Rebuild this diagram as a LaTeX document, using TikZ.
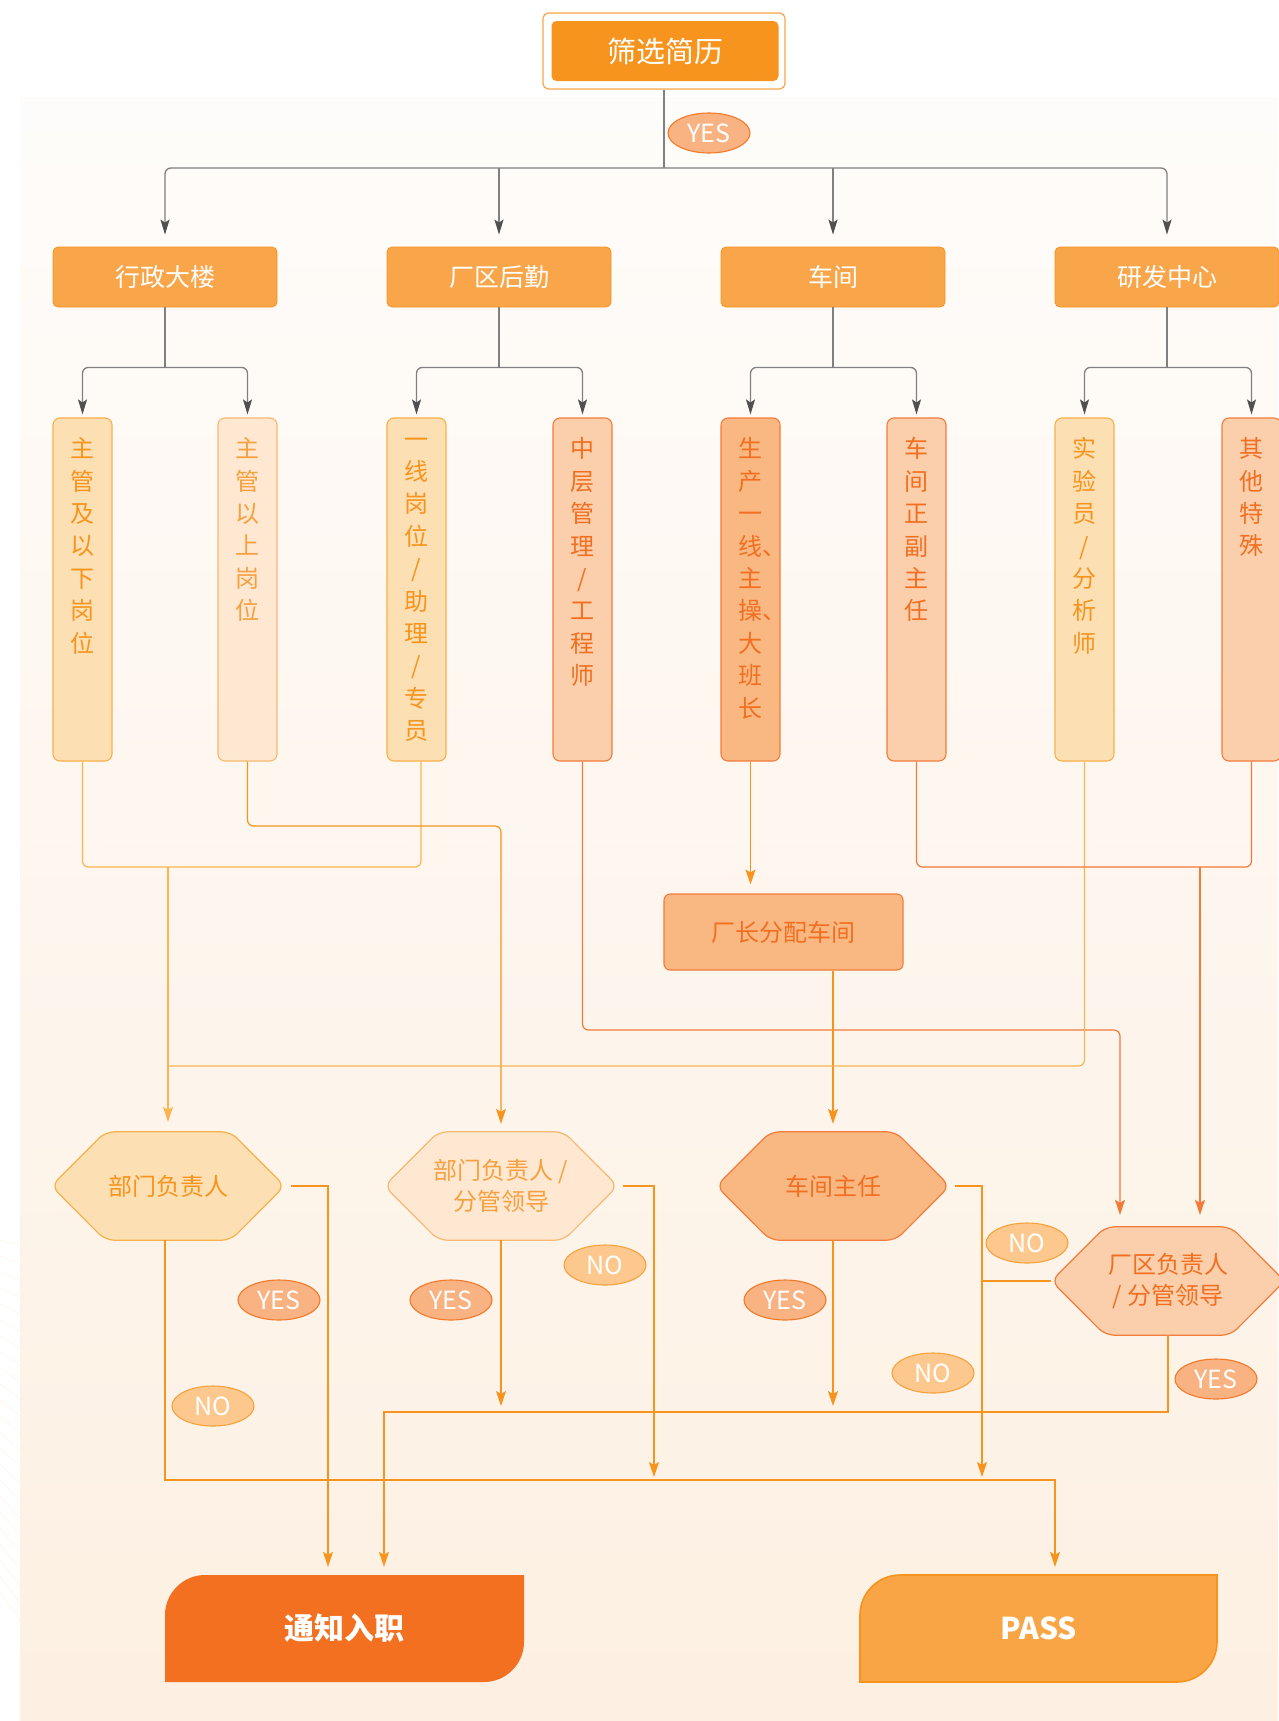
\documentclass[tikz,border=0pt]{standalone}
\usepackage{fontspec}
\setmainfont{Noto Sans CJK SC}
\usetikzlibrary{arrows.meta,calc,shapes.geometric}
\definecolor{bgtop}{HTML}{FEFCFA}
\definecolor{bgbot}{HTML}{FDF0E2}
\definecolor{topbd}{HTML}{F9A54A}
\definecolor{topfill}{HTML}{F7941D}
\definecolor{lvlfill}{HTML}{F9A54A}
\definecolor{lvlbd}{HTML}{F7941D}
\definecolor{gline}{HTML}{808080}
\definecolor{gtip}{HTML}{505050}
\definecolor{fA}{HTML}{FDDFB4}
\definecolor{bA}{HTML}{F9B04A}
\definecolor{tA}{HTML}{F7941D}
\definecolor{fB}{HTML}{FEE8D2}
\definecolor{bB}{HTML}{F9B870}
\definecolor{tB}{HTML}{F7A040}
\definecolor{fC}{HTML}{FBCFAB}
\definecolor{bC}{HTML}{F47C3C}
\definecolor{tC}{HTML}{F26F21}
\definecolor{fD}{HTML}{F9B882}
\definecolor{bD}{HTML}{F47C3C}
\definecolor{cA}{HTML}{FBB550}
\definecolor{cB}{HTML}{F7941D}
\definecolor{cC}{HTML}{F47A38}
\definecolor{cO}{HTML}{F7941D}
\definecolor{yesf}{HTML}{F9B282}
\definecolor{yesb}{HTML}{F37A2A}
\definecolor{nof}{HTML}{FDC88E}
\definecolor{nob}{HTML}{F8A23C}
\definecolor{okf}{HTML}{F37021}
\definecolor{passf}{HTML}{F9A546}
\definecolor{passb}{HTML}{F7941D}
\newcommand\hexshape[2]{\path[#2] (#1.west) -- ([xshift=54pt]#1.north west) -- ([xshift=-54pt]#1.north east) -- (#1.east) -- ([xshift=-54pt]#1.south east) -- ([xshift=54pt]#1.south west) -- cycle;}
\begin{document}
\begin{tikzpicture}[x=1pt,y=-1pt,
  glinestyle/.style={draw=gline,line width=1.3pt},
  garrow/.style={glinestyle,-{Stealth[length=15pt,width=9pt,inset=3pt,color=gtip]}},
  olinestyle/.style={line width=1.2pt},
  oarrow/.style={olinestyle,-{Stealth[length=15pt,width=10pt,inset=3pt]}},
  lvl/.style={fill=lvlfill,draw=lvlbd,line width=0.8pt,rounded corners=5pt,minimum width=224pt,minimum height=60pt,text=white,font=\fontsize{25pt}{30pt}\selectfont},
  tallbox/.style={line width=1.1pt,rounded corners=7pt,minimum width=59pt,minimum height=343pt,inner sep=0pt},
  stext/.style={anchor=north,align=center,inner sep=0pt,font=\fontsize{24pt}{32.4pt}\selectfont},
  hexn/.style={minimum width=233pt,minimum height=108pt,inner sep=0pt},
  htext/.style={align=center,inner sep=0pt,font=\fontsize{24pt}{31pt}\selectfont},
  yesl/.style={ellipse,fill=yesf,draw=yesb,line width=1.1pt,minimum width=82pt,minimum height=40pt,inner sep=0pt,text=white,font=\fontsize{25pt}{28pt}\selectfont},
  nol/.style={ellipse,fill=nof,draw=nob,line width=1.1pt,minimum width=82pt,minimum height=40pt,inner sep=0pt,text=white,font=\fontsize{25pt}{28pt}\selectfont},
  endtext/.style={minimum width=359pt,minimum height=107pt,inner sep=0pt,text=white,font=\fontsize{30pt}{34pt}\selectfont\bfseries}
]
\useasboundingbox (0,0) rectangle (1278,1721);
\fill[white] (0,0) rectangle (1278,1721);
\shade[top color=bgtop,bottom color=bgbot] (20,97) rectangle (1278,1721);
\foreach \k in {0,...,22}{
  \draw[white!92!orange,line width=0.6pt] (0,1240+\k*16) -- (20,1246+\k*17);
}

% top box
\node[draw=topbd,fill=white,rounded corners=6pt,line width=1.2pt,minimum width=242pt,minimum height=76pt] (topo) at (664,51) {};
\node[fill=topfill,rounded corners=5pt,minimum width=227pt,minimum height=60pt,text=white,font=\fontsize{29pt}{34pt}\selectfont] (top) at (665,51) {筛选简历};

% level 2
\node[lvl] (l1) at (165,277) {行政大楼};
\node[lvl] (l2) at (499,277) {厂区后勤};
\node[lvl] (l3) at (833,277) {车间};
\node[lvl] (l4) at (1167,277) {研发中心};

\coordinate (hub) at (664,168);
\draw[glinestyle] (topo.south) -- (hub);
\draw[garrow,rounded corners=6pt] (hub) -| ([yshift=12pt]l1.north);
\draw[garrow,rounded corners=6pt] (hub) -| ([yshift=12pt]l4.north);
\draw[garrow] (hub -| l2.north) -- ([yshift=12pt]l2.north);
\draw[garrow] (hub -| l3.north) -- ([yshift=12pt]l3.north);
\node[yesl] (y0) at (709,133) {YES};

% sub boxes
\node[tallbox,fill=fA,draw=bA] (s1) at (82.5,589.5) {};
\node[tallbox,fill=fB,draw=bB] (s2) at (247.5,589.5) {};
\node[tallbox,fill=fA,draw=bA] (s3) at (416.5,589.5) {};
\node[tallbox,fill=fC,draw=bC] (s4) at (582.5,589.5) {};
\node[tallbox,fill=fD,draw=bD] (s5) at (750.5,589.5) {};
\node[tallbox,fill=fC,draw=bC] (s6) at (916.5,589.5) {};
\node[tallbox,fill=fA,draw=bA] (s7) at (1084.5,589.5) {};
\node[tallbox,fill=fC,draw=bC] (s8) at (1251.5,589.5) {};
\node[stext,text=tA] (s1t) at ([yshift=-20pt]s1.north) {主\\管\\及\\以\\下\\岗\\位};
\node[stext,text=tB] (s2t) at ([yshift=-20pt]s2.north) {主\\管\\以\\上\\岗\\位};
\node[stext,text=tA] (s3t) at ([yshift=-20pt]s3.north) {一\\线\\岗\\位\\/\\助\\理\\/\\专\\员};
\node[stext,text=tC] (s4t) at ([yshift=-20pt]s4.north) {中\\层\\管\\理\\/\\工\\程\\师};
\node[stext,text=tC] (s5t) at ([yshift=-20pt]s5.north) {生\\产\\一\\线\rlap{、}\\主\\操\rlap{、}\\大\\班\\长};
\node[stext,text=tC] (s6t) at ([yshift=-20pt]s6.north) {车\\间\\正\\副\\主\\任};
\node[stext,text=tA] (s7t) at ([yshift=-20pt]s7.north) {实\\验\\员\\/\\分\\析\\师};
\node[stext,text=tC] (s8t) at ([yshift=-20pt]s8.north) {其\\他\\特\\殊};

% branches level2 -> sub
\foreach \p/\a/\b in {l1/s1/s2,l2/s3/s4,l3/s5/s6,l4/s7/s8}{
  \coordinate (br\p) at ([yshift=-60pt]\p.south);
  \draw[glinestyle] (\p.south) -- (br\p);
  \draw[garrow,rounded corners=6pt] (br\p) -| ([yshift=3pt]\a.north);
  \draw[garrow,rounded corners=6pt] (br\p) -| ([yshift=3pt]\b.north);
}

% factory box
\node[fill=fD,draw=bD,line width=1.1pt,rounded corners=6pt,minimum width=239pt,minimum height=76pt,text=tC,font=\fontsize{24pt}{28pt}\selectfont] (f) at (783.5,932) {厂长分配车间};

% hexagons
\node[hexn] (h1) at (168,1186) {};
\node[hexn] (h2) at (501,1186) {};
\node[hexn] (h3) at (833,1186) {};
\node[hexn] (h4) at (1168,1281) {};
\hexshape{h1}{fill=fA,draw=bA,line width=1.2pt,rounded corners=9pt}
\hexshape{h2}{fill=fB,draw=bB,line width=1.2pt,rounded corners=9pt}
\hexshape{h3}{fill=fD,draw=bD,line width=1.2pt,rounded corners=9pt}
\hexshape{h4}{fill=fC,draw=bC,line width=1.2pt,rounded corners=9pt}
\node[htext,text=tA] (h1t) at (h1) {部门负责人};
\node[htext,text=tB] (h2t) at (h2) {部门负责人 /\\分管领导};
\node[htext,text=tC] (h3t) at (h3) {车间主任};
\node[htext,text=tC] (h4t) at (h4) {厂区负责人\\/ 分管领导};

% end boxes
\fill[okf] (165,1682) -- (165,1615) .. controls (165,1593) and (183,1575) .. (205,1575) -- (524,1575) -- (524,1642) .. controls (524,1664) and (506,1682) .. (484,1682) -- cycle;
\filldraw[fill=passf,draw=passb,line width=1.6pt] (860,1682) -- (860,1615) .. controls (860,1593) and (878,1575) .. (900,1575) -- (1217,1575) -- (1217,1642) .. controls (1217,1664) and (1199,1682) .. (1177,1682) -- cycle;
\node[endtext] (ok) at (344.5,1628.5) {通知入职};
\node[endtext] (pass) at (1038.5,1628.5) {PASS};
\coordinate (okin) at ([yshift=8pt]ok.north);
\coordinate (passin) at ([yshift=8pt]pass.north);

% sub -> checks
\coordinate (j1) at (168,867);
\draw[olinestyle,draw=cA,rounded corners=6pt] (s1.south) |- (421,867) -- ([xshift=4.5pt]s3.south);
\draw[oarrow,draw=cA,cA] (j1) -- ([yshift=10pt]h1.north);
\draw[oarrow,draw=cB,cB,rounded corners=6pt] (s2.south) |- (501,826) -- ([yshift=8pt]h2.north);
\draw[oarrow,draw=cC,cC,rounded corners=6pt] (s4.south) |- (1120,1030) -- ([xshift=-48pt,yshift=12pt]h4.north);
\draw[oarrow,draw=cO,cO] (s5.south) -- ([yshift=9pt]f.north -| s5.south);
\draw[oarrow,draw=cO,cO] (f.south -| h3.north) -- ([yshift=8pt]h3.north);
\draw[olinestyle,draw=cA,rounded corners=6pt] (s7.south) |- (j1 |- 0,1066);
\draw[olinestyle,draw=cC,rounded corners=6pt] (s6.south) |- (1251.5,867) -- (s8.south);
\draw[oarrow,draw=cC,cC] (1200,867) -- ([xshift=32pt,yshift=12pt]h4.north);

% check outputs
\draw[oarrow,draw=cO,cO] ([xshift=6pt]h1.east) -| (328,0 |- okin);
\draw[oarrow,draw=cO,cO] (165,0 |- h1.south) |- (1055,1480) -- (1055,0 |- passin);
\draw[oarrow,draw=cO,cO] (h2.south) -- (501,1406);
\draw[oarrow,draw=cO,cO] ([xshift=5pt]h2.east) -| (654,1477);
\draw[oarrow,draw=cO,cO] (h3.south) -- (833,1406);
\draw[oarrow,draw=cO,cO] ([xshift=5pt]h3.east) -| (982,1477);
\draw[olinestyle,draw=cO] (h4.west) -- (982,0 |- h4.west);
\draw[oarrow,draw=cO,cO] (h4.south) |- (384,1412) -- (384,0 |- okin);

% labels
\node[yesl] (y1) at (279,1300) {YES};
\node[yesl] (y2) at (451,1300) {YES};
\node[yesl] (y3) at (785,1300) {YES};
\node[yesl] (y4) at (1216,1379) {YES};
\node[nol] (n1) at (213,1406) {NO};
\node[nol] (n2) at (605,1265) {NO};
\node[nol] (n3) at (933,1373) {NO};
\node[nol] (n4) at (1027,1243) {NO};
\end{tikzpicture}
\end{document}
